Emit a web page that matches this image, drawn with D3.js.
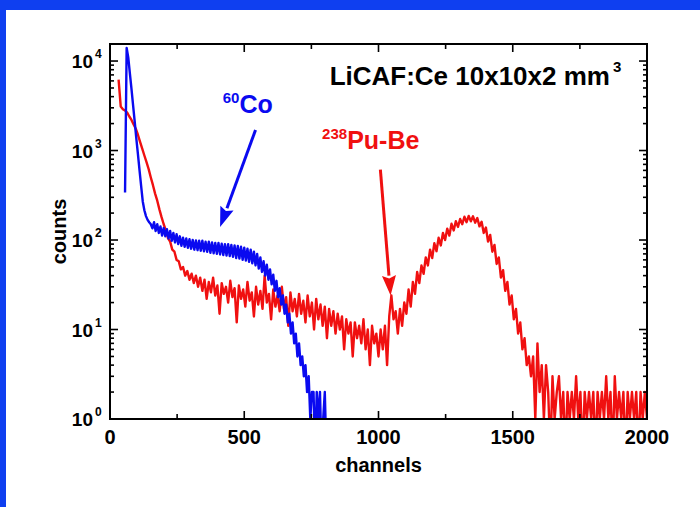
<!DOCTYPE html>
<html><head><meta charset="utf-8">
<script src="https://cdn.jsdelivr.net/npm/d3@7"></script>
<style>
html,body{margin:0;padding:0;background:#fff;}
svg{display:block;}
text{font-family:"Liberation Sans",Arial,Helvetica,sans-serif;font-weight:bold;}
</style></head>
<body><svg id="chart" width="700" height="507"></svg>
<script>
// ---- data ----
const xTicksMajor = [0, 500, 1000, 1500, 2000];
const xTicksMinor = [250, 750, 1250, 1750];
const yDecades = [0, 1, 2, 3, 4];

// 60Co spectrum: first channel 56, step 6
const coStart = 56, coStep = 6;
const coCounts = [340,14000,11000,7300,4900,3200,2100,1370,910,600,400,270,215,185,168,158,150,
 135,158,126,150,120,142,112,136,110,132,104,126,98,120,94,116,90,110,86,106,84,104,82,102,80,100,78,99,77,98,76,98,75,96,74,96,72,94,71,93,70,93,69,91,68,90,67,90,66,88,65,87,63,86,62,84,60,82,59,80,57,78,55,74,52,70,48,64,44,58,40,53,36,47,32,41,27,35,23,29,19,24,15,19,12,15,9,12,7,9,5,7,4,5,3,4,2,3,1,2,2,0,2,1,2,0,1,2,0];

// 238Pu-Be spectrum: first channel 32, step 8
const puStart = 32, puStep = 8;
const puCounts = [
 6200,3100,2900,2800,2650,2400,2200,1950,1750,1500,1250,1050,880,740,620,500,410,330,275,220,180,150,
 128,105,96,78,74,60,58,47,50,40,45,36,42,33,40,30,38,27,36,22,34,26,38,24,31,
 15,33,25,30,20,35,23,29,12,31,22,28,18,34,21,26,14,30,19,27,17,40,20,25,13,
 28,18,24,16,30,17,23,11,26,16,22,14,25,15,21,12,24,14,20,10,22,13,19,11,18,
 8,17,11,16,9,15,10,14,6,13,9,12,5,12,8,11,7,13,6,10,4,11,7,9,5,
 10,6,11,4,14,24,13,16,9,17,11,20,
 15,28,18,34,25,44,33,52,42,64,52,78,63,92,75,106,87,120,100,134,112,152,128,162,140,172,150,182,158,186,
 162,184,156,176,142,160,120,138,96,114,74,88,54,64,38,46,27,34,19,24,13,17,9,12,6,8,4,5,
 3,5,1,7,2,4,1,4,2,0,3,1,2,3,1,2,0,2,1,2,1,3,1,2,0,2,1,2,1,2,0,2,1,2,1,3,1,2,0,3,1,2,1,2,0,2,1,2,1,2,0,2,1,2,1];

const coData = coCounts.map((v, i) => ({ch: coStart + i * coStep, v}));
const puData = puCounts.map((v, i) => ({ch: puStart + i * puStep, v}));

// annotations (data coordinates)
const coLabel = {ch: 420, v: 2650, iso: "60", name: "Co"};
const puLabel = {ch: 790, v: 1040, iso: "238", name: "Pu-Be"};
const coArrow = {from: [542, 1700], to: [410, 140]};
const puArrow = {from: [1007, 610], to: [1045, 24]};
const title = {ch: 818, v: 5400, text: "LiCAF:Ce 10x10x2 mm", sup: "3"};

// ---- drawing ----
const svg = d3.select("#chart");
const BLUE = "#0a0af0", RED = "#f01010", BORDER = "#0f3ff0";

svg.append("rect").attr("x",0).attr("y",0).attr("width",700).attr("height",507).attr("fill","#fff");
svg.append("rect").attr("x",0).attr("y",0).attr("width",700).attr("height",10).attr("fill",BORDER);
svg.append("rect").attr("x",0).attr("y",0).attr("width",6).attr("height",507).attr("fill",BORDER);

const L = 110, R = 647, T = 44, B = 419;
const x = d3.scaleLinear().domain([0, 2000]).range([L, R]);
const y = d3.scaleLog().domain([1, 15500]).range([B, T]);

svg.append("defs").append("clipPath").attr("id","clip")
  .append("rect").attr("x",L).attr("y",T).attr("width",R-L).attr("height",B-T);

const line = d3.line().x(d => x(d.ch)).y(d => y(Math.max(d.v, 0.4)));

const plot = svg.append("g").attr("clip-path","url(#clip)");
plot.append("path").datum(puData).attr("d", line).attr("fill","none")
  .attr("stroke", RED).attr("stroke-width", 2.4).attr("stroke-linejoin","round");
plot.append("path").datum(coData).attr("d", line).attr("fill","none")
  .attr("stroke", BLUE).attr("stroke-width", 2.4).attr("stroke-linejoin","round");

// frame
svg.append("rect").attr("x",L).attr("y",T).attr("width",R-L).attr("height",B-T)
  .attr("fill","none").attr("stroke","#000").attr("stroke-width",2);

const ticks = svg.append("g").attr("stroke","#000").attr("stroke-width",1.6);
xTicksMajor.concat(xTicksMinor).forEach(t => {
  const len = xTicksMajor.includes(t) ? 8 : 5;
  ticks.append("line").attr("x1",x(t)).attr("x2",x(t)).attr("y1",B).attr("y2",B-len);
  ticks.append("line").attr("x1",x(t)).attr("x2",x(t)).attr("y1",T).attr("y2",T+len);
});
yDecades.forEach(k => {
  for (let m = 1; m <= 9; m++) {
    const v = m * Math.pow(10, k);
    if (v > y.domain()[1]) continue;
    const yy = y(v), len = m === 1 ? 8 : 4;
    ticks.append("line").attr("x1",L).attr("x2",L+len).attr("y1",yy).attr("y2",yy);
    ticks.append("line").attr("x1",R).attr("x2",R-len).attr("y1",yy).attr("y2",yy);
  }
});

// x tick labels
svg.append("g").selectAll("text").data(xTicksMajor).join("text")
  .attr("x", d => x(d)).attr("y", B + 25).attr("text-anchor","middle")
  .attr("font-size", 20).attr("fill","#000").text(d => d);

// y tick labels
yDecades.forEach(k => {
  svg.append("text").attr("x", 93).attr("y", y(Math.pow(10,k)) + 7)
    .attr("text-anchor","end").attr("font-size", 19).attr("fill","#000").text("10");
  svg.append("text").attr("x", 95).attr("y", y(Math.pow(10,k)) - 3)
    .attr("font-size", 12).attr("fill","#000").text(k);
});

// axis titles
svg.append("text").attr("x", (L+R)/2).attr("y", 472).attr("text-anchor","middle")
  .attr("font-size", 20).attr("fill","#000").text("channels");
svg.append("text").attr("transform", `translate(66,${(T+B)/2}) rotate(-90)`)
  .attr("text-anchor","middle").attr("font-size", 20).attr("fill","#000").text("counts");

// title
const tt = svg.append("text").attr("x", x(title.ch)).attr("y", y(title.v))
  .attr("font-size", 26).attr("fill","#000");
tt.append("tspan").text(title.text);
tt.append("tspan").attr("dy", -13).attr("font-size", 15).attr("dx", 3).text(title.sup);

// isotope labels
function isoLabel(lab, color) {
  const t = svg.append("text").attr("x", x(lab.ch)).attr("y", y(lab.v)).attr("fill", color);
  t.append("tspan").attr("font-size", 15).attr("dy", -10).text(lab.iso);
  t.append("tspan").attr("font-size", 25).attr("dy", 10).text(lab.name);
}
isoLabel(coLabel, BLUE);
isoLabel(puLabel, RED);

// arrows
function arrow(a, color) {
  const x1 = x(a.from[0]), y1 = y(a.from[1]), x2 = x(a.to[0]), y2 = y(a.to[1]);
  const ang = Math.atan2(y2 - y1, x2 - x1);
  const hl = 20, hw = 7;
  const bx = x2 - hl * Math.cos(ang), by = y2 - hl * Math.sin(ang);
  svg.append("line").attr("x1",x1).attr("y1",y1).attr("x2",bx).attr("y2",by)
    .attr("stroke",color).attr("stroke-width",3);
  const px = -Math.sin(ang), py = Math.cos(ang);
  svg.append("path").attr("d",
    `M${x2},${y2}L${bx+hw*px},${by+hw*py}L${bx+3*Math.cos(ang)},${by+3*Math.sin(ang)}L${bx-hw*px},${by-hw*py}Z`)
    .attr("fill", color);
}
arrow(coArrow, BLUE);
arrow(puArrow, RED);
</script></body></html>
